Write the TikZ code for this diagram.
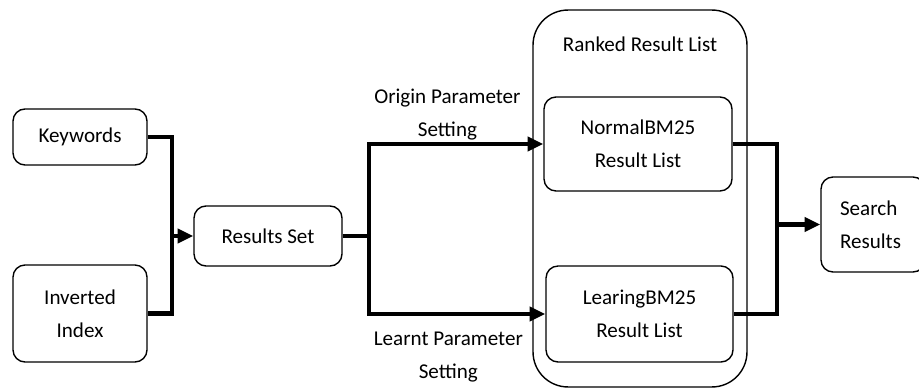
\documentclass[tikz,border=0pt]{standalone}
\usepackage{fontspec}
\setmainfont{Carlito}
\usetikzlibrary{arrows.meta, positioning, calc}

\begin{document}
\begin{tikzpicture}[x=0.02cm, y=-0.02cm,
    box/.style={draw, line width=0.8pt, rounded corners=0.24cm, align=center, font=\fontsize{12}{18.7}\selectfont},
    link/.style={line width=2.3pt},
    arr/.style={line width=2.3pt, -{Triangle[length=9pt,width=8pt]}},
    lbl/.style={align=center, font=\fontsize{12}{18.7}\selectfont}]
    \useasboundingbox (0,0) rectangle (919,388);

    \node[box, minimum width=4.28cm, minimum height=7.54cm, rounded corners=0.7cm] at (640,198.5) (ranked) {};
    \node[lbl] at (640,44) (rankedlbl) {Ranked Result List};

    \node[box, minimum width=2.68cm, minimum height=1.12cm] at (80,137) (kw) {Keywords};
    \node[box, minimum width=2.68cm, minimum height=1.94cm] at (80,313.5) (ii) {Inverted\\Index};
    \node[box, minimum width=2.96cm, minimum height=1.2cm] at (268,236) (rs) {Results Set};
    \node[box, minimum width=3.76cm, minimum height=1.88cm] at (638,144) (nbm) {NormalBM25\\Result List};
    \node[box, minimum width=3.74cm, minimum height=1.92cm] at (639.5,314) (lbm) {LearingBM25\\Result List};
    \node[box, minimum width=2.08cm, minimum height=1.9cm, text width=1.32cm, align=left] at (873,224.5) (sr) {Search\\Results};

    \coordinate (j1) at (172,236);
    \draw[link] (kw.east) -| (j1) |- (ii.east);
    \draw[arr] (j1) -- (rs.west);

    \coordinate (j2) at (369,236);
    \draw[link] (rs.east) -- (j2);
    \draw[arr] (j2) |- (nbm.west) node[lbl, above=-2pt, pos=0.725] {Origin Parameter\\Setting};
    \draw[arr] (j2) |- (lbm.west) node[lbl, below=6pt, pos=0.725] {Learnt Parameter\\Setting};

    \coordinate (j3) at (777,224.5);
    \draw[link] (nbm.east) -| (j3) |- (lbm.east);
    \draw[arr] (j3) -- (sr.west);
\end{tikzpicture}
\end{document}
